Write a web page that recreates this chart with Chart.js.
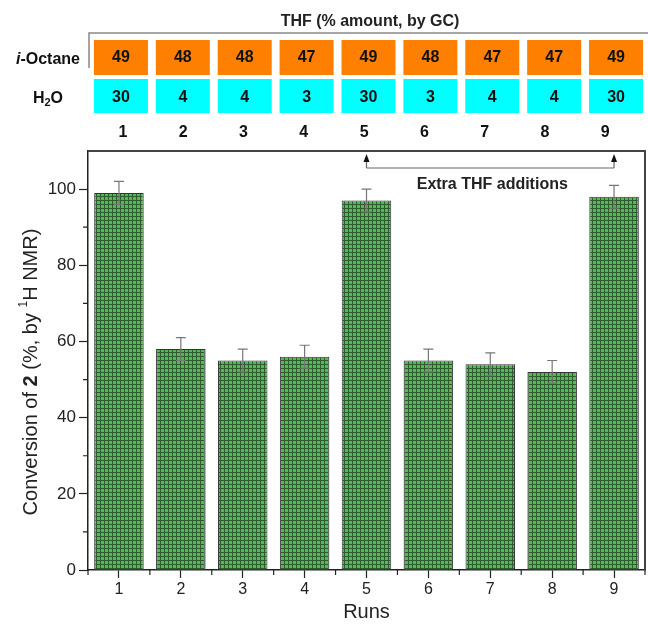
<!DOCTYPE html>
<html>
<head>
<meta charset="utf-8">
<script src="https://cdn.jsdelivr.net/npm/chart.js@4.4.0/dist/chart.umd.min.js"></script>
<style>
  body { margin: 0; background: #fff; }
  canvas { display: block; }
</style>
</head>
<body>
<canvas id="runsChart" width="648" height="629"></canvas>
<script>
const runs = ["1", "2", "3", "4", "5", "6", "7", "8", "9"];
const conversion = [99, 58, 55, 56, 97, 55, 54, 52, 98];
const conversionErr = [3, 3, 3, 3, 3, 3, 3, 3, 3];
const octaneAmount = [49, 48, 48, 47, 49, 48, 47, 47, 49];
const waterAmount = [30, 4, 4, 3, 30, 3, 4, 4, 30];
const extraThfRuns = ["5", "9"];
const yTicks = [0, 20, 40, 60, 80, 100];
const yMinorTicks = [10, 30, 50, 70, 90];

const FONT = "'Liberation Sans', Arial, sans-serif";

// green grid fill like the origin plot
function makeGridPattern() {
  const c = document.createElement("canvas");
  c.width = 4;
  c.height = 4;
  const g = c.getContext("2d");
  g.fillStyle = "#58b758";
  g.fillRect(0, 0, 4, 4);
  g.fillStyle = "#2b5e2b";
  g.fillRect(0, 0, 4, 1);
  g.fillRect(0, 0, 1, 4);
  return g.createPattern(c, "repeat");
}

function drawParts(ctx, parts, x, y, align) {
  // parts: [{t, font, dy}]
  let total = 0;
  parts.forEach((p) => {
    ctx.font = p.font;
    total += ctx.measureText(p.t).width;
  });
  let cx = align === "right" ? x - total : align === "center" ? x - total / 2 : x;
  parts.forEach((p) => {
    ctx.font = p.font;
    ctx.fillText(p.t, cx, y + (p.dy || 0));
    cx += ctx.measureText(p.t).width;
  });
}

const decorPlugin = {
  id: "decor",
  afterDraw(chart) {
    const ctx = chart.ctx;
    const xs = chart.scales.x;
    const ys = chart.scales.y;
    const area = chart.chartArea;
    ctx.save();

    // error bars
    ctx.strokeStyle = "#777";
    ctx.lineWidth = 1.2;
    conversion.forEach((v, i) => {
      const x = xs.getPixelForValue(i);
      const yTop = ys.getPixelForValue(v + conversionErr[i]);
      const yBot = ys.getPixelForValue(v - conversionErr[i]);
      ctx.beginPath();
      ctx.moveTo(x, yTop);
      ctx.lineTo(x, yBot);
      ctx.moveTo(x - 5, yTop);
      ctx.lineTo(x + 5, yTop);
      ctx.moveTo(x - 5, yBot);
      ctx.lineTo(x + 5, yBot);
      ctx.stroke();
    });

    // frame top + right
    ctx.strokeStyle = "#444";
    ctx.lineWidth = 2;
    ctx.beginPath();
    ctx.moveTo(area.left, area.top);
    ctx.lineTo(area.right, area.top);
    ctx.lineTo(area.right, area.bottom);
    ctx.stroke();

    // minor ticks
    ctx.strokeStyle = "#222";
    ctx.lineWidth = 1.2;
    ctx.beginPath();
    yMinorTicks.forEach((t) => {
      const y = ys.getPixelForValue(t);
      ctx.moveTo(area.left - 5, y);
      ctx.lineTo(area.left, y);
    });
    for (let i = 0; i <= runs.length; i++) {
      const x = xs.getPixelForValue(i - 0.5);
      ctx.moveTo(x, area.bottom);
      ctx.lineTo(x, area.bottom + 5);
    }
    ctx.stroke();

    // extra THF bracket with arrows
    const ax = extraThfRuns.map((r) => xs.getPixelForValue(runs.indexOf(r)));
    const tipY = area.top + 3;
    const baseY = area.top + 17;
    ctx.strokeStyle = "#666";
    ctx.lineWidth = 1.2;
    ctx.beginPath();
    ax.forEach((x) => {
      ctx.moveTo(x, tipY + 6);
      ctx.lineTo(x, baseY);
    });
    ctx.moveTo(ax[0], baseY);
    ctx.lineTo(ax[1], baseY);
    ctx.stroke();
    ctx.fillStyle = "#111";
    ax.forEach((x) => {
      ctx.beginPath();
      ctx.moveTo(x, tipY);
      ctx.lineTo(x - 3, tipY + 8);
      ctx.lineTo(x + 3, tipY + 8);
      ctx.closePath();
      ctx.fill();
    });
    ctx.fillStyle = "#222";
    ctx.font = "bold 16px " + FONT;
    ctx.textAlign = "center";
    ctx.textBaseline = "middle";
    ctx.fillText("Extra THF additions", (ax[0] + ax[1]) / 2 + 2, area.top + 34);

    // top table
    ctx.font = "bold 16px " + FONT;
    ctx.fillText("THF (% amount, by GC)", 370, 22);
    ctx.strokeStyle = "#888";
    ctx.lineWidth = 1.5;
    ctx.beginPath();
    ctx.moveTo(area.left + 1, 68);
    ctx.lineTo(area.left + 1, 33);
    ctx.lineTo(648, 33);
    ctx.stroke();

    runs.forEach((r, i) => {
      const cx = xs.getPixelForValue(i) + 2;
      ctx.fillStyle = "#ff7f00";
      ctx.fillRect(cx - 27, 40, 54, 35);
      ctx.fillStyle = "#00ffff";
      ctx.fillRect(cx - 27, 79, 54, 34);
      ctx.fillStyle = "#111";
      ctx.font = "bold 16px " + FONT;
      ctx.textAlign = "center";
      ctx.fillText(String(octaneAmount[i]), cx, 58);
      ctx.fillText(String(waterAmount[i]), cx, 98);
      ctx.fillText(r, cx + 2 - i * 1.6, 133);
    });

    // row labels
    ctx.fillStyle = "#111";
    ctx.textAlign = "left";
    drawParts(ctx, [
      { t: "i", font: "italic bold 16px " + FONT },
      { t: "-Octane", font: "bold 16px " + FONT },
    ], 80, 60, "right");
    drawParts(ctx, [
      { t: "H", font: "bold 16px " + FONT },
      { t: "2", font: "bold 11px " + FONT, dy: 4 },
      { t: "O", font: "bold 16px " + FONT },
    ], 48, 99, "center");

    // y axis title
    ctx.save();
    ctx.translate(31, 372);
    ctx.rotate(-Math.PI / 2);
    ctx.fillStyle = "#222";
    drawParts(ctx, [
      { t: "Conversion of ", font: "20px " + FONT },
      { t: "2", font: "bold 20px " + FONT },
      { t: " (%, by ", font: "20px " + FONT },
      { t: "1", font: "12px " + FONT, dy: -7 },
      { t: "H NMR)", font: "20px " + FONT },
    ], 0, 0, "center");
    ctx.restore();

    // x axis title
    ctx.fillStyle = "#222";
    ctx.font = "20px " + FONT;
    ctx.textAlign = "center";
    ctx.fillText("Runs", (area.left + area.right) / 2, 612);

    ctx.restore();
  },
};

const ctx = document.getElementById("runsChart").getContext("2d");
new Chart(ctx, {
  type: "bar",
  data: {
    labels: runs,
    datasets: [
      {
        data: conversion,
        backgroundColor: makeGridPattern(),
        borderColor: "#333",
        borderWidth: 1,
        barPercentage: 0.8,
        categoryPercentage: 1,
      },
    ],
  },
  options: {
    responsive: false,
    animation: false,
    layout: {
      padding: { top: 151, right: 3, left: 0, bottom: 0 },
    },
    plugins: {
      legend: { display: false },
      tooltip: { enabled: false },
    },
    scales: {
      x: {
        afterFit: (scale) => {
          scale.height = 59;
        },
        grid: {
          display: true,
          drawOnChartArea: false,
          offset: false,
          tickLength: 8,
          tickColor: "#222",
          tickWidth: 1.2,
        },
        border: { color: "#222", width: 1.5 },
        ticks: {
          color: "#222",
          font: { family: FONT, size: 16 },
          padding: 2,
        },
      },
      y: {
        min: 0,
        max: 110,
        afterBuildTicks: (scale) => {
          scale.ticks = yTicks.map((v) => ({ value: v }));
        },
        afterFit: (scale) => {
          scale.width = 88;
        },
        grid: {
          display: true,
          drawOnChartArea: false,
          tickLength: 9,
          tickColor: "#222",
          tickWidth: 1.2,
        },
        border: { color: "#222", width: 1.5 },
        ticks: {
          color: "#222",
          font: { family: FONT, size: 17 },
          padding: 3,
        },
      },
    },
  },
  plugins: [decorPlugin],
});
</script>
</body>
</html>
